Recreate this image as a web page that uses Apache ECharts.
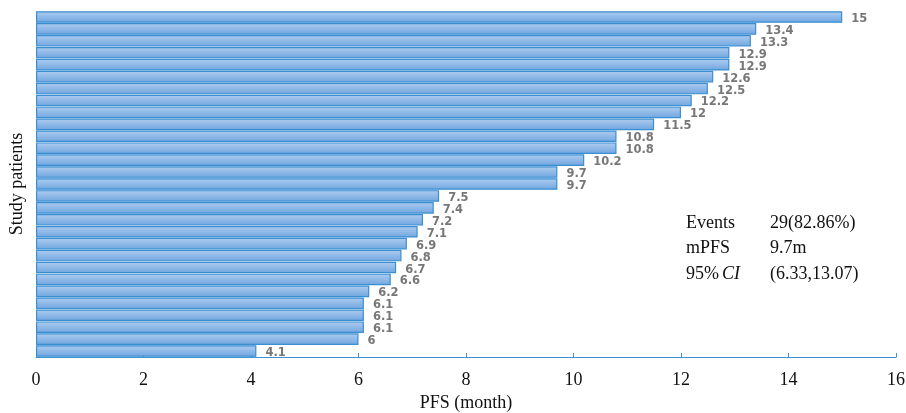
<!DOCTYPE html>
<html><head><meta charset="utf-8">
<script src="https://cdn.jsdelivr.net/npm/echarts@6/dist/echarts.min.js"></script>
<style>html,body{margin:0;padding:0;background:#fff}#c{width:906px;height:413px}</style>
</head><body><div id="c"></div>
<script>
const patients = ['1','2','3','4','5','6','7','8','9','10','11','12','13','14','15','16','17','18','19','20','21','22','23','24','25','26','27','28','29'];
const pfsMonths = [15,13.4,13.3,12.9,12.9,12.6,12.5,12.2,12,11.5,10.8,10.8,10.2,9.7,9.7,7.5,7.4,7.2,7.1,6.9,6.8,6.7,6.6,6.2,6.1,6.1,6.1,6,4.1];
const xTicks = [0,2,4,6,8,10,12,14,16];
const statsLabels = ['Events','mPFS','95%'];
const statsValues = ['29(82.86%)','9.7m','(6.33,13.07)'];

const chart = echarts.init(document.getElementById('c'));
const serif = '"Liberation Serif","Times New Roman",serif';
const F = 18;
chart.setOption({
  animation:false,
  grid:{left:36,right:10,top:11,bottom:56,containLabel:false,outerBoundsMode:'none'},
  xAxis:{type:'value',min:xTicks[0],max:xTicks[xTicks.length-1],interval:2,
    name:'PFS (month)',nameLocation:'middle',nameGap:37,
    nameTextStyle:{fontFamily:serif,fontSize:F,color:'#111'},
    axisLine:{show:true,lineStyle:{color:'#3d92d4',width:1}},
    axisTick:{show:true,inside:true,length:4,lineStyle:{color:'#3d92d4'}},
    axisLabel:{fontFamily:serif,fontSize:F,color:'#111',margin:14},
    splitLine:{show:false}},
  yAxis:{type:'category',inverse:true,data:patients,
    name:'Study patients',nameLocation:'middle',nameGap:10,nameRotate:90,
    nameTextStyle:{fontFamily:serif,fontSize:F,color:'#111'},
    axisLine:{show:false},axisTick:{show:false},axisLabel:{show:false}},
  series:[{type:'bar',data:pfsMonths,barCategoryGap:'3%',
    itemStyle:{color:new echarts.graphic.LinearGradient(0,0,0,1,[
      {offset:0,color:'#b0cdef'},{offset:0.5,color:'#8fb9e8'},{offset:1,color:'#70a5de'}]),
      borderColor:'#3a8fd2',borderWidth:1.2},
    label:{show:true,position:'right',distance:9,offset:[0,2],
      fontFamily:'"DejaVu Sans",sans-serif',fontWeight:'bold',fontSize:11.5,color:'#777'}}],
  graphic:statsLabels.map((l,i)=>({type:'group',left:686,top:214+i*25.5,children:[
    {type:'text',style:{text:l,font:F+'px '+serif,fill:'#111',x:0,y:0}},
    ...(i===2?[{type:'text',style:{text:'CI',font:'italic '+F+'px '+serif,fill:'#111',x:36,y:0}}]:[]),
    {type:'text',style:{text:statsValues[i],font:F+'px '+serif,fill:'#111',x:84,y:0}}]}))
});
</script></body></html>
